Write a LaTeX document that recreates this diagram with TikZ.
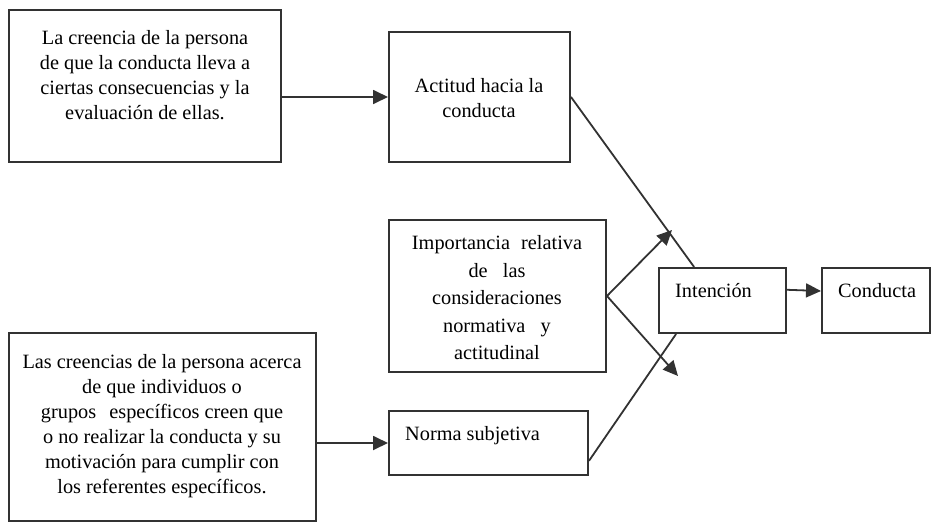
\documentclass[tikz,border=0pt]{standalone}
\usepackage{fontspec}
\setmainfont{Liberation Serif}
\usetikzlibrary{positioning, arrows.meta, calc}
\definecolor{linegray}{RGB}{50,50,50}

\begin{document}
\begin{tikzpicture}[x=1pt, y=-1pt,
  box/.style={draw=linegray, line width=2pt, inner sep=0pt, fill=white},
  txt/.style={inner sep=0pt, align=center, font=\fontsize{20.3}{25}\selectfont},
  ltxt/.style={inner sep=0pt, anchor=west, font=\fontsize{20.3}{25}\selectfont},
  arr/.style={draw=linegray, line width=1.8pt, -{Triangle[length=15pt, width=14pt]}},
  ln/.style={draw=linegray, line width=1.8pt}]
  \useasboundingbox (0,0) rectangle (938,523);

  % Boxes
  \node[box, minimum width=272pt, minimum height=152pt] (creencia) at (145,86) {};
  \node[txt] (creenciatxt) at (145,75) {La creencia de la persona\\de que la conducta lleva a\\ciertas consecuencias y la\\evaluación de ellas.};

  \node[box, minimum width=181pt, minimum height=130pt] (actitud) at (479.5,97) {};
  \node[txt] (actitudtxt) at (479,98) {Actitud hacia la\\conducta};

  \node[box, minimum width=217pt, minimum height=152pt] (importancia) at (497.5,296) {};
  \node[txt, font=\fontsize{20.3}{27.5}\selectfont] (importanciatxt) at (497,298)
    {Importancia\hspace{0.3em} relativa\\de\hspace{0.5em} las\\consideraciones\\normativa\hspace{0.5em} y\\actitudinal};

  \node[box, minimum width=127pt, minimum height=65pt] (intencion) at (722.5,300.5) {};
  \node[ltxt] (intenciontxt) at (675,291) {Intención};

  \node[box, minimum width=108pt, minimum height=65pt] (conducta) at (876,300.5) {};
  \node[ltxt] (conductatxt) at (838,291) {Conducta};

  \node[box, minimum width=307pt, minimum height=188pt] (creenciasref) at (162.5,427) {};
  \node[txt] (creenciasreftxt) at (162,426) {Las creencias de la persona acerca\\de que individuos o\\grupos\hspace{0.4em} específicos creen que\\o no realizar la conducta y su\\motivación para cumplir con\\los referentes específicos.};

  \node[box, minimum width=199pt, minimum height=64pt] (norma) at (488.5,443) {};
  \node[ltxt] (normatxt) at (405,436) {Norma subjetiva};

  % Free ends of the two arrows from the weighting box
  \coordinate (tipup) at (672,230);
  \coordinate (tipdown) at (678,376);

  % Arrows
  \draw[arr] (creencia.east |- actitud.west) -- (actitud.west);
  \draw[arr] (creenciasref.east |- norma.west) -- (norma.west);
  \draw[ln] (actitud.east) -- ($(intencion.north west)!0.28!(intencion.north east)$);
  \draw[ln] ($(norma.north east)!0.77!(norma.south east)$) -- ($(intencion.south west)!0.14!(intencion.south east)$);
  \draw[arr] (importancia.east) -- (tipup);
  \draw[arr] (importancia.east) -- (tipdown);
  \draw[arr] ($(intencion.north east)!0.34!(intencion.south east)$) -- (conducta.west |- intenciontxt);
\end{tikzpicture}
\end{document}
